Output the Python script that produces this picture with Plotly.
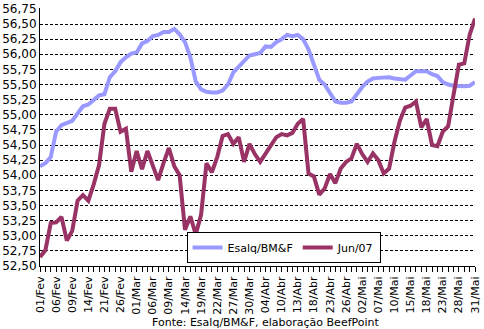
import plotly.graph_objects as go

dates = ["01/Fev","02/Fev","05/Fev","06/Fev","07/Fev","08/Fev","09/Fev","12/Fev","13/Fev","14/Fev",
         "15/Fev","16/Fev","21/Fev","22/Fev","23/Fev","26/Fev","27/Fev","28/Fev","01/Mar","02/Mar",
         "05/Mar","06/Mar","07/Mar","08/Mar","09/Mar","12/Mar","13/Mar","14/Mar","15/Mar","16/Mar",
         "19/Mar","20/Mar","21/Mar","22/Mar","23/Mar","26/Mar","27/Mar","28/Mar","29/Mar","30/Mar",
         "02/Abr","03/Abr","04/Abr","05/Abr","09/Abr","10/Abr","11/Abr","12/Abr","13/Abr","16/Abr",
         "17/Abr","18/Abr","19/Abr","20/Abr","23/Abr","24/Abr","25/Abr","26/Abr","27/Abr","30/Abr",
         "02/Mai","03/Mai","04/Mai","07/Mai","08/Mai","09/Mai","10/Mai","11/Mai","14/Mai","15/Mai",
         "16/Mai","17/Mai","18/Mai","21/Mai","22/Mai","23/Mai","24/Mai","25/Mai","28/Mai","29/Mai",
         "30/Mai","31/Mai"]

esalq = [54.15,54.20,54.30,54.72,54.83,54.86,54.90,55.02,55.14,55.17,
         55.25,55.32,55.34,55.62,55.72,55.87,55.95,56.01,56.03,56.18,
         56.22,56.30,56.32,56.37,56.37,56.42,56.33,56.20,55.95,55.55,
         55.42,55.38,55.37,55.37,55.40,55.50,55.70,55.80,55.88,55.98,
         56.00,56.02,56.13,56.12,56.20,56.25,56.32,56.30,56.32,56.25,
         56.08,55.85,55.58,55.50,55.35,55.22,55.20,55.20,55.22,55.35,
         55.46,55.55,55.60,55.61,55.62,55.62,55.60,55.59,55.58,55.65,
         55.72,55.72,55.72,55.67,55.64,55.54,55.50,55.48,55.47,55.47,
         55.48,55.54]

jun07 = [52.65,52.76,53.21,53.22,53.31,52.92,53.08,53.58,53.67,53.58,
         53.85,54.17,54.85,55.10,55.10,54.72,54.77,54.06,54.40,54.10,
         54.40,54.15,53.92,54.20,54.45,54.15,54.00,53.10,53.32,53.02,
         53.35,54.20,54.05,54.30,54.65,54.68,54.52,54.63,54.22,54.52,
         54.35,54.22,54.35,54.50,54.63,54.68,54.66,54.70,54.85,54.93,
         54.03,53.98,53.68,53.78,54.02,53.87,54.11,54.22,54.28,54.52,
         54.35,54.22,54.36,54.25,54.03,54.11,54.55,54.90,55.12,55.15,
         55.22,54.79,54.93,54.50,54.48,54.72,54.81,55.33,55.83,55.85,
         56.32,56.59]

y_ticks = [52.50 + 0.25 * k for k in range(18)]
y_labels = [f"{v:.2f}".replace(".", ",") for v in y_ticks]

idx = list(range(len(dates)))
FONT = "DejaVu Sans"

fig = go.Figure()
fig.add_trace(go.Scatter(x=idx, y=esalq, mode="lines", name="Esalq/BM&F",
                         line=dict(color="#9999FF", width=4)))
fig.add_trace(go.Scatter(x=idx, y=jun07, mode="lines", name="Jun/07",
                         line=dict(color="#993366", width=4)))

fig.update_layout(
    width=484, height=329,
    margin=dict(l=40, r=2, t=4, b=63),
    paper_bgcolor="white", plot_bgcolor="white",
    font=dict(family=FONT, size=11, color="black"),
    showlegend=True,
    legend=dict(orientation="h", x=0.337, y=0.072, xref="paper", yref="paper",
                xanchor="left", yanchor="middle",
                bgcolor="white", bordercolor="#000000", borderwidth=1,
                font=dict(family=FONT, size=11), itemwidth=30),
    xaxis=dict(range=[0, len(dates) - 1], tickmode="array",
               tickvals=idx[::3], ticktext=dates[::3], tickangle=-90,
               ticklabeloverflow="allow",
               ticks="outside", ticklen=5, tickcolor="black", tickwidth=1,
               minor=dict(dtick=1, tick0=0, ticks="outside", ticklen=5,
                          tickcolor="black", tickwidth=1, showgrid=False),
               showline=True, linecolor="black", linewidth=1,
               showgrid=False, zeroline=False,
               tickfont=dict(family=FONT, size=11)),
    yaxis=dict(range=[52.5, 56.765], tickmode="array", tickvals=y_ticks,
               ticktext=y_labels, ticklabeloverflow="allow",
               showline=True, linecolor="black", linewidth=1,
               showgrid=True, gridcolor="black", gridwidth=1, griddash="3px,2px",
               zeroline=False, ticks="", tickfont=dict(family=FONT, size=12)),
)

fig.add_annotation(text="Fonte: Esalq/BM&F, elaboração BeefPoint",
                   xref="paper", yref="paper", x=0.52, y=0, yshift=-56,
                   xanchor="center", yanchor="middle", showarrow=False,
                   font=dict(family=FONT, size=11))

fig.write_html("out.html")
